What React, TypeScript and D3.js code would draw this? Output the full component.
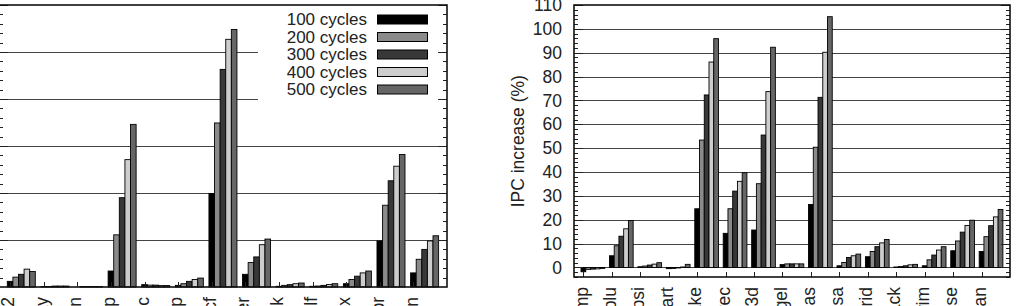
import React, { useEffect, useRef } from 'react';
import * as d3 from 'd3';

// series shared by both panels
const seriesNames = ['100 cycles', '200 cycles', '300 cycles', '400 cycles', '500 cycles'];
const seriesColors = ['#000000', '#8a8a8a', '#383838', '#cdcdcd', '#666666'];

// left panel (integer benchmarks), y labels are cropped off the figure
const intNames = ['bzip2', 'crafty', 'eon', 'gap', 'gcc', 'gzip', 'mcf', 'parser', 'perlbmk', 'twolf', 'vortex', 'vpr', 'mean'];
const int100 = [1.2, 0.1, 0.0, 3.4, 0.5, 0.35, 19.9, 2.7, 0.15, 0.15, 0.7, 9.8, 3.0];
const int200 = [2.1, 0.1, 0.1, 11.1, 0.4, 0.7, 34.9, 5.2, 0.35, 0.2, 1.6, 17.4, 5.9];
const int300 = [2.7, 0.2, 0.1, 19.0, 0.4, 1.2, 46.3, 6.4, 0.5, 0.35, 2.3, 22.6, 8.0];
const int400 = [3.8, 0.2, 0.1, 27.1, 0.3, 1.6, 52.7, 9.0, 0.7, 0.55, 3.0, 25.7, 9.8];
const int500 = [3.3, 0.2, 0.1, 34.6, 0.3, 1.9, 54.8, 10.2, 0.85, 0.7, 3.4, 28.2, 10.9];

// right panel (floating point benchmarks)
const fpNames = ['ammp', 'applu', 'apsi', 'art', 'equake', 'facerec', 'fma3d', 'galgel', 'lucas', 'mesa', 'mgrid', 'sixtrack', 'swim', 'wupwise', 'mean'];
const fp100 = [-1.8, 4.9, 0.3, -0.5, 24.6, 14.3, 15.7, 1.2, 26.4, 0.7, 4.5, 0.2, 0.7, 7.0, 6.7];
const fp200 = [-0.8, 9.1, 0.6, -0.4, 53.4, 24.6, 35.1, 1.5, 50.4, 2.1, 6.7, 0.4, 3.2, 11.1, 12.9];
const fp300 = [-0.7, 13.1, 1.0, -0.2, 72.3, 32.0, 55.5, 1.5, 71.3, 4.2, 8.7, 0.7, 5.2, 14.8, 17.5];
const fp400 = [-0.6, 16.2, 1.4, 0.2, 86.1, 36.1, 73.7, 1.5, 90.2, 4.9, 10.3, 1.1, 7.3, 17.6, 21.2];
const fp500 = [-0.4, 19.7, 2.0, 1.3, 95.9, 39.7, 92.3, 1.5, 105.1, 5.6, 11.7, 1.3, 8.7, 19.8, 24.3];

const fpTicks = d3.range(0, 111, 10);
const FONT = '"Liberation Sans", Arial, Helvetica, sans-serif';

interface PanelCfg {
  names: string[];
  series: number[][];
  left: number;
  right: number;
  top: number;
  bottom: number;
  yDomain: [number, number];
  yStep: number;
  minorStep: number;
  gridFrom: number;
  legend: boolean;
  yLabels: boolean;
}

function drawPanel(svg: d3.Selection<SVGSVGElement, unknown, null, undefined>, cfg: PanelCfg) {
  const { names, series, left, right, top, bottom } = cfg;
  const n = names.length;
  const x = d3.scaleLinear().domain([-0.33, n]).range([left, right]);
  const y = d3.scaleLinear().domain(cfg.yDomain).range([bottom, top]);
  const g = svg.append('g');

  const majors = d3.range(cfg.gridFrom, cfg.yDomain[1] + 0.001, cfg.yStep);
  const minors = d3.range(Math.ceil(cfg.yDomain[0] / cfg.minorStep) * cfg.minorStep, cfg.yDomain[1], cfg.minorStep)
    .filter(v => Math.abs(v / cfg.yStep - Math.round(v / cfg.yStep)) > 0.01);

  // grid
  g.selectAll('line.grid')
    .data(majors.filter(v => v < cfg.yDomain[1]))
    .join('line')
    .attr('x1', left).attr('x2', right)
    .attr('y1', d => Math.round(y(d)) + 0.5).attr('y2', d => Math.round(y(d)) + 0.5)
    .attr('stroke', '#444').attr('stroke-width', 1.1);

  // legend box hides the grid
  if (cfg.legend) {
    g.append('rect')
      .attr('x', 258).attr('y', 6).attr('width', 180).attr('height', 95)
      .attr('fill', '#fff');
    const row = g.selectAll('g.leg')
      .data(seriesNames)
      .join('g')
      .attr('transform', (_, i) => `translate(0,${19.5 + i * 17.5})`);
    row.append('text')
      .attr('x', 367).attr('dy', '0.35em')
      .attr('text-anchor', 'end')
      .attr('font-size', 17)
      .attr('font-family', FONT)
      .attr('fill', '#222')
      .text(d => d);
    row.append('rect')
      .attr('x', 377.5).attr('y', -4.5).attr('width', 50).attr('height', 9)
      .attr('fill', (_, i) => seriesColors[i])
      .attr('stroke', '#000').attr('stroke-width', 1);
  }

  // bars
  series.forEach((vals, k) => {
    g.append('g')
      .selectAll('rect')
      .data(vals)
      .join('rect')
      .attr('x', (_, i) => x(i + (k - 0.5) / 6))
      .attr('width', (_, i) => x(i + (k + 0.5) / 6) - x(i + (k - 0.5) / 6))
      .attr('y', d => y(Math.max(d, 0)))
      .attr('height', d => Math.abs(y(d) - y(0)))
      .attr('fill', seriesColors[k])
      .attr('stroke', '#000').attr('stroke-width', 0.9);
  });

  // ticks
  const tk = g.append('g').attr('stroke', '#222').attr('stroke-width', 1);
  [left, right].forEach((edge, side) => {
    const dir = side === 0 ? 1 : -1;
    tk.selectAll(null).data(minors).join('line')
      .attr('x1', edge).attr('x2', edge + dir * 4)
      .attr('y1', d => Math.round(y(d)) + 0.5).attr('y2', d => Math.round(y(d)) + 0.5);
    tk.selectAll(null).data(majors).join('line')
      .attr('x1', edge).attr('x2', edge + dir * 9)
      .attr('y1', d => Math.round(y(d)) + 0.5).attr('y2', d => Math.round(y(d)) + 0.5);
  });
  tk.selectAll(null).data(names).join('line')
    .attr('x1', (_, i) => Math.round(x(i)) + 0.5).attr('x2', (_, i) => Math.round(x(i)) + 0.5)
    .attr('y1', bottom).attr('y2', bottom - 5);

  // frame
  g.append('rect')
    .attr('x', left).attr('y', top)
    .attr('width', right - left).attr('height', bottom - top)
    .attr('fill', 'none').attr('stroke', '#111').attr('stroke-width', 1.6);

  // x labels, rotated, cut by the figure edge
  g.selectAll('text.xl')
    .data(names)
    .join('text')
    .attr('transform', (_, i) => `translate(${x(i) - 2},${bottom + 10}) rotate(-90)`)
    .attr('dy', '0.35em')
    .attr('text-anchor', 'end')
    .attr('font-size', 17.5)
    .attr('font-family', FONT)
    .attr('fill', '#222')
    .text(d => d);

  if (cfg.yLabels) {
    g.selectAll('text.yl')
      .data(fpTicks)
      .join('text')
      .attr('x', left - 12)
      .attr('y', d => y(d))
      .attr('dy', '0.35em')
      .attr('text-anchor', 'end')
      .attr('font-size', 17.5)
      .attr('font-family', FONT)
      .attr('fill', '#222')
      .text(d => d);
    g.append('text')
      .attr('transform', `translate(518,${(top + y(0)) / 2 + 5}) rotate(-90)`)
      .attr('dy', '0.35em')
      .attr('text-anchor', 'middle')
      .attr('font-size', 17.5)
      .attr('font-family', FONT)
      .attr('fill', '#222')
      .text('IPC increase (%)');
  }
}

const App: React.FC = () => {
  const svgRef = useRef<SVGSVGElement>(null);

  useEffect(() => {
    if (!svgRef.current) return;
    const svg = d3.select(svgRef.current);
    svg.selectAll('*').remove();

    drawPanel(svg, {
      names: intNames,
      series: [int100, int200, int300, int400, int500],
      left: -1, right: 447, top: 5, bottom: 287,
      yDomain: [0, 60], yStep: 10, minorStep: 2, gridFrom: 10,
      legend: true, yLabels: false,
    });
    drawPanel(svg, {
      names: fpNames,
      series: [fp100, fp200, fp300, fp400, fp500],
      left: 574, right: 1010, top: 5, bottom: 277,
      yDomain: [-4, 110], yStep: 10, minorStep: 2, gridFrom: 0,
      legend: false, yLabels: true,
    });
  }, []);

  return (
    <svg
      ref={svgRef}
      width={1020}
      height={306}
      viewBox="0 0 1020 306"
      style={{ position: 'absolute', left: 0, top: 0, background: '#fff', display: 'block' }}
    />
  );
};

export default App;
